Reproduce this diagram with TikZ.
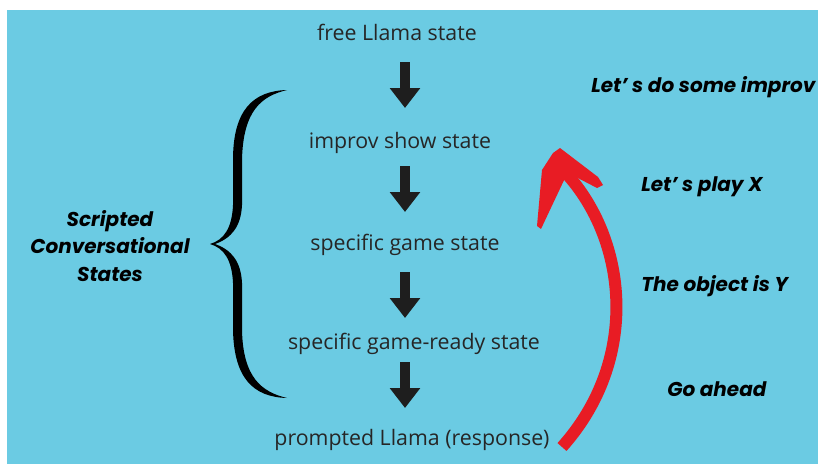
\documentclass[tikz,border=0pt]{standalone}
\usepackage{fontspec}
\setmainfont{Open Sans}
\newfontfamily\labfont{Poppins}
\usetikzlibrary{arrows.meta,calc}
\definecolor{bgblue}{RGB}{107,203,227}
\definecolor{redarr}{RGB}{232,28,36}
\definecolor{darkarr}{RGB}{30,30,30}
\tikzset{
  statetext/.style={inner sep=0pt, font=\fontsize{16}{19}\selectfont, text=black!85},
  labtext/.style={inner sep=0pt, font=\labfont\bfseries\itshape\fontsize{15}{20.5}\selectfont, text=black},
  downarr/.style={draw=darkarr, line width=7.5pt, -{Triangle[width=22pt,length=15pt]}, color=darkarr},
}
\begin{document}
\begin{tikzpicture}[x=0.75pt,y=-0.75pt]
\useasboundingbox (0,0) rectangle (818,464);
\fill[white] (0,0) rectangle (818,464);
\fill[bgblue] (7,10) rectangle (818,464);

% state texts
\node[statetext] (s1) at (397,32) {free Llama state};
\node[statetext] (s2) at (400,143) {improv show state};
\node[statetext] (s3) at (405,245) {specific game state};
\node[statetext] (s4) at (414,344) {specific game-ready state};
\node[statetext] (s5) at (412,440) {prompted Llama (response)};

% arrow anchors
\coordinate (a1s) at (405,62);  \coordinate (a1e) at (405,108);
\coordinate (a2s) at (405,166); \coordinate (a2e) at (405,212);
\coordinate (a3s) at (405,272); \coordinate (a3e) at (405,318);
\coordinate (a4s) at (405,362); \coordinate (a4e) at (405,408);
\draw[downarr] (a1s) -- (a1e);
\draw[downarr] (a2s) -- (a2e);
\draw[downarr] (a3s) -- (a3e);
\draw[downarr] (a4s) -- (a4e);

% brace
\fill[black] (287,90) .. controls (253,91) and (233,110) .. (233,160) -- (233,205)
  .. controls (232,228) and (224,240) .. (210,244)
  .. controls (224,248) and (232,260) .. (233,283) -- (233,330)
  .. controls (234,378) and (253,397) .. (287,398)
  .. controls (262,392) and (243,378) .. (242,330) -- (242,283)
  .. controls (241,262) and (232,250) .. (215,244)
  .. controls (232,238) and (241,226) .. (242,205) -- (242,160)
  .. controls (243,110) and (262,96) .. (287,90) -- cycle;

\node[labtext, align=center] (scs) at (110,246) {Scripted\\Conversational\\States};

% labels
\node[labtext, anchor=west] (l1) at (591,87) {Let’ s do some improv};
\node[labtext, anchor=west] (l2) at (641,187) {Let’ s play X};
\node[labtext, anchor=west] (l3) at (641,286) {The object is Y};
\node[labtext, anchor=west] (l4) at (667,389) {Go ahead};

% red arrow
\coordinate (rs) at (562,447);
\coordinate (re) at (565,172);
\draw[redarr, line width=9pt] (rs) .. controls (640,360) and (628,240) .. (re);
\fill[redarr] (553,153) -- (560,148) -- (598,177) -- (603,185) -- (597,188)
  -- (574,176) -- (566,176) -- (549,212) -- (541,229) -- (537,226)
  -- (542,170) -- cycle;
\end{tikzpicture}
\end{document}
